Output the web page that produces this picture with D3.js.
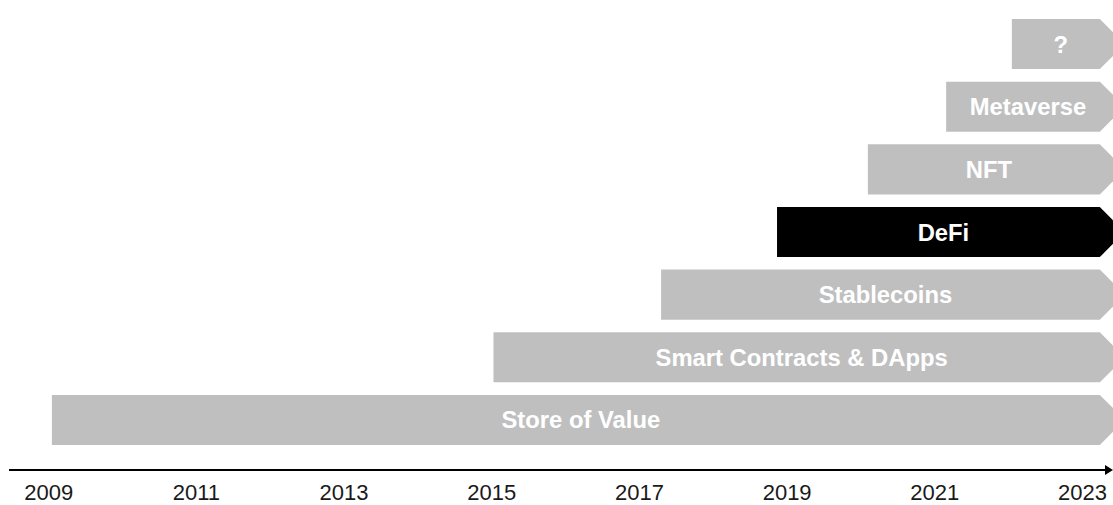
<!DOCTYPE html>
<html>
<head>
<meta charset="utf-8">
<script src="https://cdn.jsdelivr.net/npm/d3@7"></script>
<style>
  html, body { margin: 0; padding: 0; background: #ffffff; }
  svg { display: block; font-family: "Liberation Sans", Arial, sans-serif; }
</style>
</head>
<body>
<svg id="chart" width="1113" height="505"></svg>
<script>
// ---- data ----
const categories = ["?", "Metaverse", "NFT", "DeFi", "Stablecoins", "Smart Contracts & DApps", "Store of Value"];
const startYears = [2022.05, 2021.16, 2020.1, 2018.87, 2017.3, 2015.03, 2009.05];
const endYear = 2023.58;
const highlighted = ["DeFi"];
const tickYears = [2009, 2011, 2013, 2015, 2017, 2019, 2021, 2023];

// ---- layout ----
const W = 1113, H = 505;
const axisY = 470;
const head = 25;
const svg = d3.select("#chart");

const x = d3.scaleLinear().domain([2009, 2023]).range([48.2, 1082]);
const y = d3.scaleBand().domain(categories).range([19, 445]).paddingInner(0.2);

const rows = categories.map((c, i) => ({ name: c, start: startYears[i], end: endYear }));

// bars as right-pointing arrows
svg.append("g").selectAll("path")
  .data(rows)
  .join("path")
  .attr("d", d => {
    const x0 = x(d.start), x1 = x(d.end);
    const y0 = y(d.name), h = y.bandwidth(), y1 = y0 + h;
    const xf = x1 - head;
    return `M${x0},${y0}L${xf},${y0}L${x1},${y0 + h / 2}L${xf},${y1}L${x0},${y1}Z`;
  })
  .attr("fill", d => highlighted.includes(d.name) ? "#000000" : "#bfbfbf");

// labels
svg.append("g").selectAll("text")
  .data(rows)
  .join("text")
  .attr("x", d => (x(d.start) + x(d.end) - 15) / 2)
  .attr("y", d => y(d.name) + y.bandwidth() / 2 + 8.5)
  .attr("text-anchor", "middle")
  .attr("fill", "#ffffff")
  .attr("font-weight", "bold")
  .attr("font-size", "23.8px")
  .text(d => d.name);

// axis
const axis = d3.axisBottom(x).tickValues(tickYears).tickFormat(d3.format("d")).tickSize(0).tickPadding(14.5);
const gAxis = svg.append("g").attr("transform", `translate(0,${axisY})`).call(axis);
gAxis.select(".domain").remove();
gAxis.selectAll("text")
  .attr("font-size", "22px")
  .attr("fill", "#1a1a1a")
  .style("font-family", "'Liberation Sans', Arial, sans-serif");

// axis line with arrow head
svg.append("line")
  .attr("x1", 9).attr("x2", W - 6)
  .attr("y1", axisY).attr("y2", axisY)
  .attr("stroke", "#000").attr("stroke-width", 2);
svg.append("path")
  .attr("d", `M${W - 8},${axisY - 5}L${W},${axisY}L${W - 8},${axisY + 5}Z`)
  .attr("fill", "#000");
</script>
</body>
</html>
